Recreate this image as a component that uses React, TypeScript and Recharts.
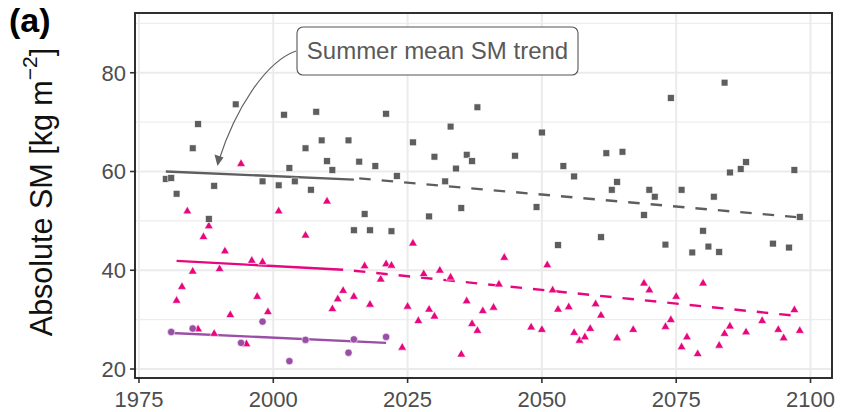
import React from 'react';
import { ComposedChart, Scatter, Line, XAxis, YAxis, CartesianGrid } from 'recharts';

// ---- data ----
const grayYears = [1980,1981,1982,1985,1986,1988,1989,1993,1998,2001,2002,2003,2004,2006,2007,2008,2009,2010,2011,2014,2015,2016,2017,2018,2019,2021,2022,2023,2026,2029,2030,2032,2033,2034,2035,2036,2037,2038,2045,2049,2050,2053,2054,2056,2061,2062,2063,2064,2065,2069,2070,2071,2073,2074,2076,2078,2080,2081,2082,2083,2084,2085,2087,2088,2093,2096,2097,2098];
const grayValues = [58.5,58.7,55.5,64.7,69.6,50.4,57.1,73.6,58.0,57.2,71.5,60.7,58.0,64.7,56.3,72.1,66.3,62.1,60.3,66.3,48.1,62.0,51.4,48.1,61.1,71.7,47.9,59.1,65.9,50.9,63.0,58.0,69.1,60.6,52.6,63.4,62.1,73.0,63.2,52.8,67.9,45.1,61.1,59.0,46.7,63.7,56.3,57.9,64.0,51.2,56.3,54.9,45.2,74.9,56.3,43.6,48.0,44.8,54.9,43.7,78.0,59.8,60.5,61.9,45.4,44.6,60.3,50.8];

const pinkYears = [1982,1983,1984,1985,1986,1987,1988,1989,1990,1991,1992,1994,1995,1996,1997,1998,1999,2001,2006,2010,2011,2012,2013,2015,2017,2018,2020,2021,2022,2024,2025,2026,2027,2028,2029,2030,2031,2033,2035,2036,2037,2038,2039,2041,2042,2043,2048,2050,2051,2052,2053,2055,2056,2057,2058,2059,2060,2061,2064,2067,2069,2070,2073,2074,2075,2076,2077,2079,2080,2083,2084,2085,2088,2091,2094,2095,2097,2098];
const pinkValues = [34.1,36.9,52.2,40.0,28.3,47.0,49.2,27.4,40.5,44.1,31.2,61.8,25.3,42.2,34.9,41.9,31.8,52.2,47.3,54.2,32.4,34.4,36.1,34.9,41.1,33.3,38.4,41.5,41.2,24.6,32.9,45.7,30.0,39.5,32.3,30.9,40.2,38.8,23.2,34.0,29.4,28.0,32.0,32.7,37.4,42.8,28.7,28.2,41.3,36.2,32.3,32.8,27.6,26.0,26.7,28.4,33.4,31.1,26.5,28.2,37.6,36.2,28.8,30.2,34.9,24.7,26.7,23.3,37.6,25.0,27.4,28.9,27.7,30.0,28.2,26.5,32.2,28.0];

const purpleYears = [1981,1985,1994,1998,2003,2006,2014,2015,2021];
const purpleValues = [27.5,28.2,25.3,29.6,21.6,25.9,23.3,26.0,26.5];

// trend lines (end points)
const graySolidYears = [1980, 2015];
const graySolidValues = [60.0, 58.35];
const grayDashedYears = [2016, 2098];
const grayDashedValues = [58.6, 50.7];
const pinkSolidYears = [1982, 2013];
const pinkSolidValues = [41.9, 40.1];
const pinkDashedYears = [2015, 2098];
const pinkDashedValues = [39.9, 30.7];
const purpleSolidYears = [1981, 2021];
const purpleSolidValues = [27.3, 25.3];

// axes
const xTicks = [1975, 2000, 2025, 2050, 2075, 2100];
const xMinorTicks = [1987.5, 2012.5, 2037.5, 2062.5, 2087.5];
const yTicks = [20, 40, 60, 80];
const yMinorTicks = [30, 50, 70, 90];
const xDomain = [1974.26, 2104.0];
const yDomain = [18.18, 92.1];

const zip = (ys: number[], vs: number[]) => ys.map((y, i) => ({ year: y, v: vs[i] }));

const grayData = zip(grayYears, grayValues);
const pinkData = zip(pinkYears, pinkValues);
const purpleData = zip(purpleYears, purpleValues);

const GRAY = '#5E5E5E';
const PINK = '#E8067F';
const PURPLE = '#9A4EA6';
const FONT = '"Liberation Sans", Arial, Helvetica, sans-serif';

const Square = (p: any) => {
  const s = 6.8;
  return <rect x={p.cx - s / 2} y={p.cy - s / 2} width={s} height={s} fill={GRAY} stroke="#fff" strokeWidth={0.6} />;
};
const Triangle = (p: any) => {
  const s = 8.8;
  const h = s * 0.87;
  const pts = `${p.cx},${p.cy - h / 2} ${p.cx - s / 2},${p.cy + h / 2} ${p.cx + s / 2},${p.cy + h / 2}`;
  return <polygon points={pts} fill={PINK} stroke="#fff" strokeWidth={0.6} />;
};
const Dot = (p: any) => <circle cx={p.cx} cy={p.cy} r={3.7} fill={PURPLE} stroke="#fff" strokeWidth={0.6} />;

const PLOT = { left: 135, top: 13, right: 832, bottom: 378 };

export default function App() {
  return (
    <div style={{ position: 'absolute', left: 0, top: 0, width: 841, height: 412, background: '#fff', fontFamily: FONT }}>
      <ComposedChart
        width={841}
        height={412}
        margin={{ top: PLOT.top, right: 841 - PLOT.right, bottom: 0, left: 0 }}
      >
        <XAxis
          type="number"
          dataKey="year"
          domain={xDomain}
          allowDataOverflow
          ticks={xTicks}
          height={34}
          tickSize={5}
          tickMargin={8}
          axisLine={false}
          tickLine={{ stroke: '#333', strokeWidth: 1.6 }}
          tick={{ fill: '#4D4D4D', fontSize: 22, fontFamily: FONT }}
        />
        <YAxis
          type="number"
          dataKey="v"
          domain={yDomain}
          allowDataOverflow
          ticks={yTicks}
          width={PLOT.left}
          tickSize={5}
          tickMargin={4}
          axisLine={false}
          tickLine={{ stroke: '#333', strokeWidth: 1.6 }}
          tick={{ fill: '#4D4D4D', fontSize: 22, fontFamily: FONT }}
        />
        <XAxis xAxisId="minor" type="number" hide domain={xDomain} allowDataOverflow ticks={xMinorTicks} />
        <YAxis yAxisId="minor" type="number" hide domain={yDomain} allowDataOverflow ticks={yMinorTicks} />
        <CartesianGrid xAxisId="minor" yAxisId="minor" stroke="#EDEDED" strokeWidth={1.1} />
        <CartesianGrid stroke="#EBEBEB" strokeWidth={2} />

        <Line data={zip(graySolidYears, graySolidValues)} dataKey="v" stroke={GRAY} strokeWidth={2.4} dot={false} isAnimationActive={false} />
        <Line data={zip(grayDashedYears, grayDashedValues)} dataKey="v" stroke={GRAY} strokeWidth={2.4} strokeDasharray="11.5 11" dot={false} isAnimationActive={false} />
        <Line data={zip(pinkSolidYears, pinkSolidValues)} dataKey="v" stroke={PINK} strokeWidth={2.4} dot={false} isAnimationActive={false} />
        <Line data={zip(pinkDashedYears, pinkDashedValues)} dataKey="v" stroke={PINK} strokeWidth={2.4} strokeDasharray="11.5 11" dot={false} isAnimationActive={false} />
        <Line data={zip(purpleSolidYears, purpleSolidValues)} dataKey="v" stroke={PURPLE} strokeWidth={2.4} dot={false} isAnimationActive={false} />

        <Scatter data={pinkData} shape={Triangle} isAnimationActive={false} />
        <Scatter data={purpleData} shape={Dot} isAnimationActive={false} />
        <Scatter data={grayData} shape={Square} isAnimationActive={false} />
      </ComposedChart>

      <svg width={841} height={412} style={{ position: 'absolute', left: 0, top: 0, pointerEvents: 'none' }}>
        <rect
          x={PLOT.left}
          y={PLOT.top}
          width={PLOT.right - PLOT.left}
          height={PLOT.bottom - PLOT.top}
          fill="none"
          stroke="#262626"
          strokeWidth={1.9}
        />
        <text x={9} y={32} fontFamily={FONT} fontWeight="bold" fontSize={34} fill="#000">(a)</text>
        <text transform="translate(52,192) rotate(-90)" textAnchor="middle" fontFamily={FONT} fontSize={30.5} fill="#111">
          <tspan>Absolute SM [kg m</tspan>
          <tspan dy={-15} fontSize={21}>−2</tspan>
          <tspan dy={15}>]</tspan>
        </text>
        {/* annotation */}
        <path d="M296,51 C265,62 235,110 219,160" fill="none" stroke="#606060" strokeWidth={1.1} />
        <polygon points="217.5,166 214.5,154.5 223.5,157.5" fill="#606060" />
        <rect x={297} y={27} width={281} height={48} rx={6} ry={6} fill="#fff" stroke="#555" strokeWidth={1.1} />
        <text x={437.5} y={59} textAnchor="middle" fontFamily={FONT} fontSize={24} fill="#595959">Summer mean SM trend</text>
      </svg>
    </div>
  );
}
